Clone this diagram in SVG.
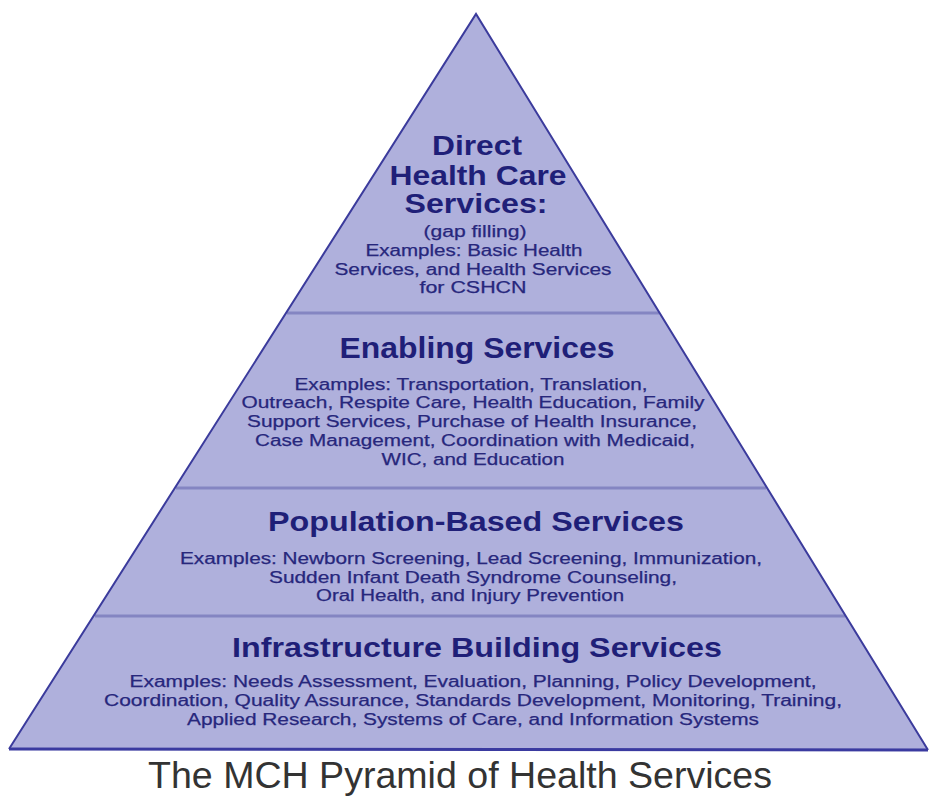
<svg xmlns="http://www.w3.org/2000/svg" width="929" height="797" viewBox="0 0 929 797">
  <style>
    .tier { fill: #afb0dc; }
    .edge { fill: none; stroke: #3b3b9c; stroke-width: 2; stroke-linejoin: miter; }
    .divider { stroke: #8485c2; stroke-width: 3; }
    .base { stroke: #3a3aa0; stroke-width: 3; }
    .title { font-family: "Liberation Sans", Arial, sans-serif; font-weight: bold; fill: #1f1f78; text-anchor: middle; }
    .body { font-family: "Liberation Sans", Arial, sans-serif; fill: #27277c; stroke: #27277c; stroke-width: 0.25; text-anchor: middle; font-size: 16px; }
    .caption { font-family: "Liberation Sans", Arial, sans-serif; fill: #333333; text-anchor: middle; font-size: 36px; }
  </style>

  <rect width="929" height="797" fill="#ffffff"/>

  <!-- pyramid body -->
  <polygon class="tier" points="476,14 9,749 928,750"/>

  <!-- tier separators and outline -->
  <g id="connectors">
    <line class="divider" x1="287" y1="313" x2="659" y2="313"/>
    <line class="divider" x1="176" y1="488" x2="766" y2="488"/>
    <line class="divider" x1="95" y1="616" x2="845" y2="616"/>
    <line class="base" x1="9" y1="749" x2="928" y2="750"/>
    <polyline class="edge" points="9,749 476,14 928,750"/>
  </g>

  <g id="direct-health-care">
    <text class="title" font-size="28" x="477" y="155" textLength="90" lengthAdjust="spacingAndGlyphs">Direct</text>
    <text class="title" font-size="28" x="478" y="185" textLength="177" lengthAdjust="spacingAndGlyphs">Health Care</text>
    <text class="title" font-size="28" x="476" y="213" textLength="143" lengthAdjust="spacingAndGlyphs">Services:</text>
    <text class="body" x="475" y="237" textLength="103" lengthAdjust="spacingAndGlyphs">(gap filling)</text>
    <text class="body" x="474" y="256" textLength="217" lengthAdjust="spacingAndGlyphs">Examples: Basic Health</text>
    <text class="body" x="473" y="275" textLength="277" lengthAdjust="spacingAndGlyphs">Services, and Health Services</text>
    <text class="body" x="473" y="293" textLength="107" lengthAdjust="spacingAndGlyphs">for CSHCN</text>
  </g>

  <g id="enabling">
    <text class="title" font-size="29" x="477" y="358" textLength="275" lengthAdjust="spacingAndGlyphs">Enabling Services</text>
    <text class="body" x="471" y="390" textLength="353" lengthAdjust="spacingAndGlyphs">Examples: Transportation, Translation,</text>
    <text class="body" x="473" y="408" textLength="463" lengthAdjust="spacingAndGlyphs">Outreach, Respite Care, Health Education, Family</text>
    <text class="body" x="472" y="427" textLength="450" lengthAdjust="spacingAndGlyphs">Support Services, Purchase of Health Insurance,</text>
    <text class="body" x="475" y="446" textLength="440" lengthAdjust="spacingAndGlyphs">Case Management, Coordination with Medicaid,</text>
    <text class="body" x="473" y="465" textLength="183" lengthAdjust="spacingAndGlyphs">WIC, and Education</text>
  </g>

  <g id="population-based">
    <text class="title" font-size="28" x="476" y="531" textLength="416" lengthAdjust="spacingAndGlyphs">Population-Based Services</text>
    <text class="body" x="471" y="564" textLength="582" lengthAdjust="spacingAndGlyphs">Examples: Newborn Screening, Lead Screening, Immunization,</text>
    <text class="body" x="473" y="583" textLength="408" lengthAdjust="spacingAndGlyphs">Sudden Infant Death Syndrome Counseling,</text>
    <text class="body" x="470" y="601" textLength="308" lengthAdjust="spacingAndGlyphs">Oral Health, and Injury Prevention</text>
  </g>

  <g id="infrastructure-building">
    <text class="title" font-size="28" x="477" y="657" textLength="490" lengthAdjust="spacingAndGlyphs">Infrastructure Building Services</text>
    <text class="body" x="473" y="687" textLength="687" lengthAdjust="spacingAndGlyphs">Examples: Needs Assessment, Evaluation, Planning, Policy Development,</text>
    <text class="body" x="473" y="706" textLength="738" lengthAdjust="spacingAndGlyphs">Coordination, Quality Assurance, Standards Development, Monitoring, Training,</text>
    <text class="body" x="473" y="725" textLength="572" lengthAdjust="spacingAndGlyphs">Applied Research, Systems of Care, and Information Systems</text>
  </g>

  <g id="caption">
    <text class="caption" x="460" y="788" textLength="624" lengthAdjust="spacingAndGlyphs">The MCH Pyramid of Health Services</text>
  </g>
</svg>
